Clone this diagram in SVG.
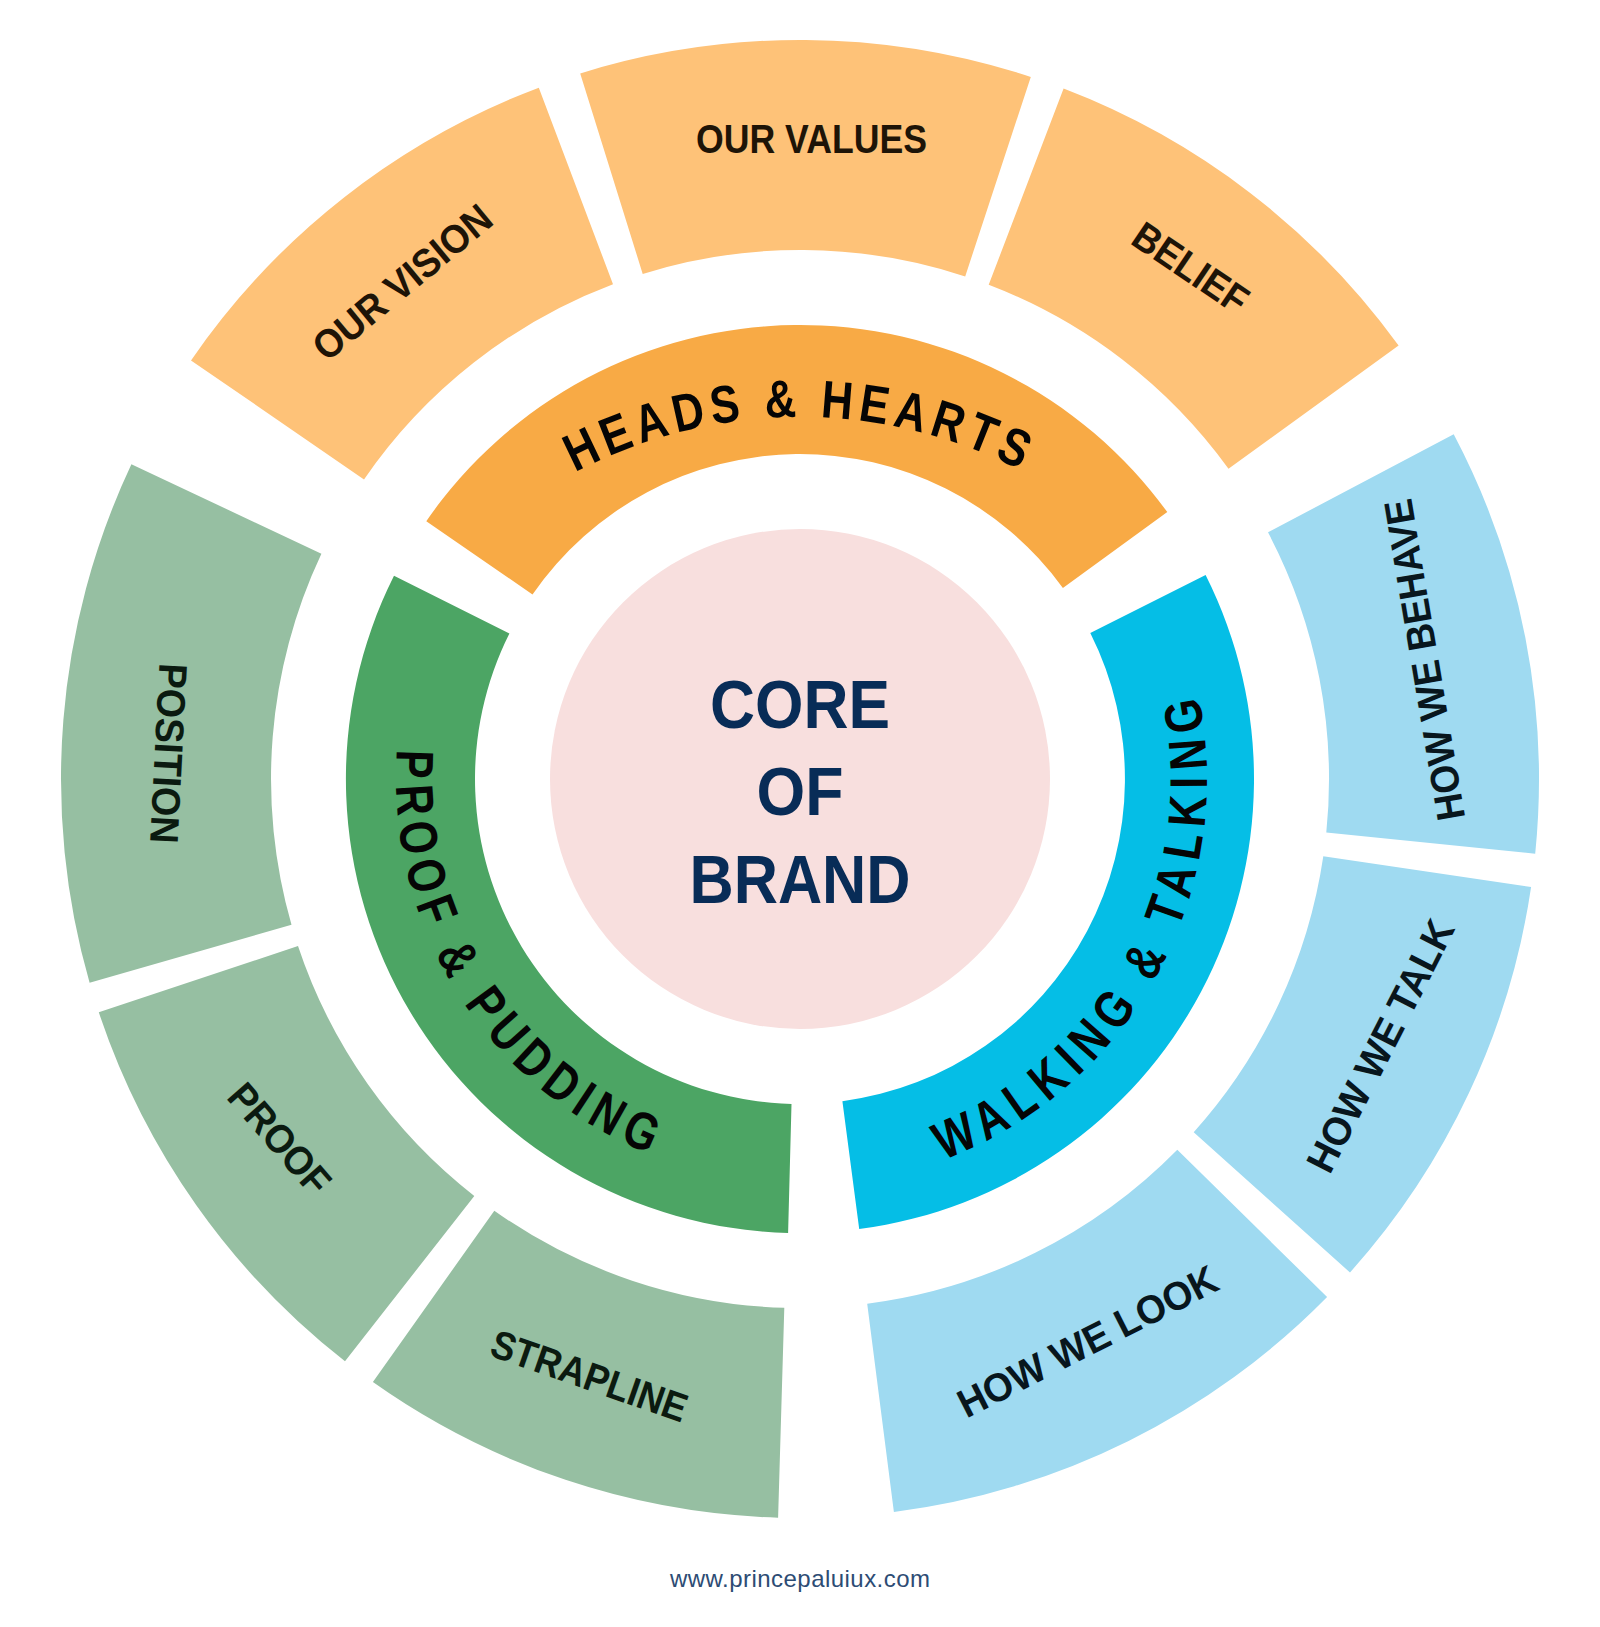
<svg xmlns="http://www.w3.org/2000/svg" xmlns:xlink="http://www.w3.org/1999/xlink" width="1600" height="1627" viewBox="0 0 1600 1627">
<style>
.so{fill:#FEC278}.sg{fill:#96BFA2}.sb{fill:#9FDAF1}
.hh{fill:#F8AA45}.pp{fill:#4CA564}.wt{fill:#05BEE6}
.lbl{font-family:'Liberation Sans',Arial,sans-serif;font-weight:700;font-size:40px;text-anchor:middle}
.to{fill:#1E1407}.tg{fill:#0B1A10}.tb{fill:#08161D}
.ring{font-family:'Liberation Sans',Arial,sans-serif;font-weight:700;font-size:53px;fill:#050505}
.core{font-family:'Liberation Sans',Arial,sans-serif;font-weight:700;font-size:68px;fill:#082C57;text-anchor:middle}
.url{font-family:'Liberation Sans',Arial,sans-serif;font-size:24px;fill:#2D4C74;text-anchor:middle}
</style>
<defs>
<path id="tp-hh" d="M489.5 530 A483 483 0 0 1 1110.5 530"/>
<path id="tp-wt" d="M870.7 1179.8 A407 407 0 0 0 1173.5 617.4"/>
<path id="tp-pp" d="M405.6 691.6 A404 404 0 0 0 712.6 1173.4"/>
</defs>
<rect width="1600" height="1627" fill="#FFFFFF"/>

<g id="connectors"/>

<g id="node-our-vision">
<path class="so" d="M191.0 360.4 A739 739 0 0 1 538.8 87.7 L613.0 284.2 A529 529 0 0 0 364.0 479.4Z"/>
<text class="lbl to" transform="translate(402 282) rotate(-39.6)" y="14.3" textLength="219" lengthAdjust="spacingAndGlyphs">OUR VISION</text>
</g>
<g id="node-our-values">
<path class="so" d="M580.2 73.4 A739 739 0 0 1 1030.8 76.9 L965.2 276.4 A529 529 0 0 0 642.7 273.9Z"/>
<text class="lbl to" x="811.5" y="153.3" textLength="231" lengthAdjust="spacingAndGlyphs">OUR VALUES</text>
</g>
<g id="node-belief">
<path class="so" d="M1063.6 88.6 A739 739 0 0 1 1398.6 345.6 L1228.5 468.8 A529 529 0 0 0 988.7 284.8Z"/>
<text class="lbl to" transform="translate(1191 267.5) rotate(34)" y="14.3" textLength="130" lengthAdjust="spacingAndGlyphs">BELIEF</text>
</g>
<g id="node-how-we-behave">
<path class="sb" d="M1453.7 434.3 A739 739 0 0 1 1535.2 853.7 L1326.3 832.5 A529 529 0 0 0 1268.0 532.3Z"/>
<text class="lbl tb" transform="translate(1424 660) rotate(-99.6)" y="14.3" textLength="325" lengthAdjust="spacingAndGlyphs">HOW WE BEHAVE</text>
</g>
<g id="node-how-we-talk">
<path class="sb" d="M1531.1 887.0 A739 739 0 0 1 1350.0 1272.5 L1193.7 1132.3 A529 529 0 0 0 1323.3 856.3Z"/>
<text class="lbl tb" transform="translate(1380 1045.5) rotate(-63)" y="14.3" textLength="277" lengthAdjust="spacingAndGlyphs">HOW WE TALK</text>
</g>
<g id="node-how-we-look">
<path class="sb" d="M1327.1 1297.0 A739 739 0 0 1 893.9 1512.0 L867.2 1303.7 A529 529 0 0 0 1177.3 1149.8Z"/>
<text class="lbl tb" transform="translate(1087.5 1341) rotate(-27)" y="14.3" textLength="286" lengthAdjust="spacingAndGlyphs">HOW WE LOOK</text>
</g>
<g id="node-strapline">
<path class="sg" d="M778.1 1517.7 A739 739 0 0 1 372.9 1382.1 L494.3 1210.7 A529 529 0 0 0 784.3 1307.8Z"/>
<text class="lbl tg" transform="translate(589.5 1375.5) rotate(19.2)" y="14.3" textLength="205" lengthAdjust="spacingAndGlyphs">STRAPLINE</text>
</g>
<g id="node-proof">
<path class="sg" d="M345.0 1361.3 A739 739 0 0 1 98.8 1012.3 L298.0 946.0 A529 529 0 0 0 474.3 1195.9Z"/>
<text class="lbl tg" transform="translate(280 1138.5) rotate(49)" y="14.3" textLength="133" lengthAdjust="spacingAndGlyphs">PROOF</text>
</g>
<g id="node-position">
<path class="sg" d="M89.6 982.7 A739 739 0 0 1 131.4 464.3 L321.4 553.7 A529 529 0 0 0 291.5 924.8Z"/>
<text class="lbl tg" transform="translate(169 753.5) rotate(93)" y="14.3" textLength="180" lengthAdjust="spacingAndGlyphs">POSITION</text>
</g>

<g id="node-heads-hearts">
<path class="hh" d="M426.3 521.2 A454 454 0 0 1 1167.3 512.1 L1062.9 588.0 A325 325 0 0 0 532.5 594.5Z"/>
<text class="ring" text-anchor="middle" letter-spacing="7"><textPath xlink:href="#tp-hh" href="#tp-hh" startOffset="50%" textLength="468" lengthAdjust="spacingAndGlyphs">HEADS &amp; HEARTS</textPath></text>
</g>
<g id="node-walking-talking">
<path class="wt" d="M1205.6 575.0 A454 454 0 0 1 859.2 1229.1 L842.4 1101.2 A325 325 0 0 0 1090.3 633.0Z"/>
<text class="ring" text-anchor="middle" letter-spacing="9.9"><textPath xlink:href="#tp-wt" href="#tp-wt" startOffset="50%" textLength="584" lengthAdjust="spacingAndGlyphs">WALKING &amp; TALKING</textPath></text>
</g>
<g id="node-proof-pudding">
<path class="pp" d="M788.1 1232.9 A454 454 0 0 1 394.0 575.7 L509.4 633.5 A325 325 0 0 0 791.5 1103.9Z"/>
<text class="ring" text-anchor="middle" letter-spacing="9.4"><textPath xlink:href="#tp-pp" href="#tp-pp" startOffset="50%" textLength="517" lengthAdjust="spacingAndGlyphs">PROOF &amp; PUDDING</textPath></text>
</g>

<g id="node-core">
<circle cx="800" cy="779" r="250" fill="#F8DFDE"/>
<text class="core" x="800" y="728" textLength="180" lengthAdjust="spacingAndGlyphs">CORE</text>
<text class="core" x="800" y="814.5" textLength="87" lengthAdjust="spacingAndGlyphs">OF</text>
<text class="core" x="800" y="902.5" textLength="221" lengthAdjust="spacingAndGlyphs">BRAND</text>
</g>

<g id="footer">
<text class="url" x="800" y="1587" textLength="260">www.princepaluiux.com</text>
</g>
</svg>
